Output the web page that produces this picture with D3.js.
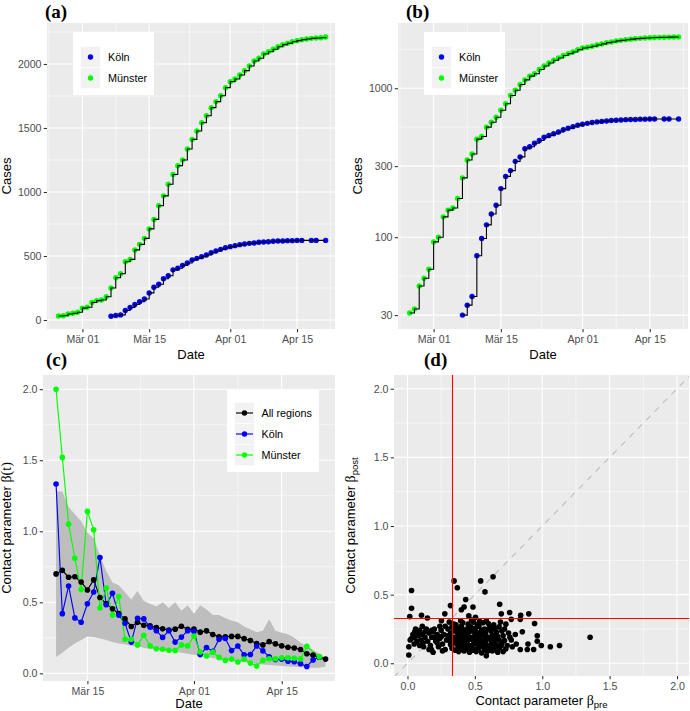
<!DOCTYPE html>
<html><head><meta charset="utf-8">
<script src="https://cdn.jsdelivr.net/npm/d3@7"></script>
<style>body{margin:0;background:#fff}svg{display:block}</style>
</head><body><svg id="chart" width="690" height="711"></svg>
<script>
// ---------------- DATA ----------------
const seriesNames = ["Köln", "Münster"];
const betaSeriesNames = ["All regions", "Köln", "Münster"];
const monthNames = ["Jan","Feb","Mär","Apr","Mai","Jun"];

const muensterStart = "2020-02-25";
const muensterCases = [31,33,47,53,61,93,100,137,152,157,182,250,330,362,455,474,548,591,638,712,786,893,970,1060,1137,1206,1250,1336,1411,1477,1541,1596,1659,1706,1752,1815,1862,1883,1914,1948,1984,2023,2045,2078,2096,2115,2135,2151,2161,2174,2182,2190,2195,2200,2203,2205,2211];

const koelnDates = ["2020-03-07","2020-03-08","2020-03-09","2020-03-10","2020-03-11","2020-03-12","2020-03-13","2020-03-14","2020-03-15","2020-03-16","2020-03-17","2020-03-18","2020-03-19","2020-03-20","2020-03-21","2020-03-22","2020-03-23","2020-03-24","2020-03-25","2020-03-26","2020-03-27","2020-03-28","2020-03-29","2020-03-30","2020-03-31","2020-04-01","2020-04-02","2020-04-03","2020-04-04","2020-04-05","2020-04-06","2020-04-07","2020-04-08","2020-04-09","2020-04-10","2020-04-11","2020-04-12","2020-04-13","2020-04-14","2020-04-15","2020-04-16","2020-04-18","2020-04-19","2020-04-21"];
const koelnCases = [30,35,40,75,98,121,143,164,212,256,280,323,346,392,405,427,446,469,482,495,508,526,539,552,565,573,581,589,594,599,602,607,609,612,615,617,617,620,620,622,622,622,622,622];

const betaStart = "2020-03-10";
const betaAll = [0.70,0.725,0.676,0.68,0.643,0.587,0.658,0.534,0.489,0.455,0.42,0.383,0.33,0.36,0.338,0.335,0.322,0.313,0.305,0.311,0.331,0.31,0.312,0.29,0.299,0.273,0.257,0.257,0.26,0.26,0.244,0.231,0.21,0.20,0.223,0.207,0.193,0.184,0.178,0.168,0.138,0.128,0.113,0.10];
const betaKoeln = [1.333,0.42,0.615,0.39,0.36,0.49,0.573,0.815,0.483,0.563,0.41,0.352,0.22,0.387,0.383,0.324,0.30,0.253,0.30,0.22,0.255,0.30,0.295,0.132,0.182,0.155,0.24,0.245,0.16,0.192,0.13,0.133,0.192,0.158,0.117,0.097,0.10,0.085,0.081,0.068,0.048,0.094,0.113];
const betaMuenster = [2.0,1.52,1.05,0.81,0.59,1.14,1.01,0.46,0.60,0.41,0.54,0.24,0.24,0.20,0.268,0.193,0.173,0.169,0.162,0.16,0.20,0.193,0.262,0.15,0.122,0.149,0.112,0.091,0.10,0.08,0.10,0.072,0.051,0.091,0.103,0.103,0.11,0.109,0.106,0.102,0.19,null,0.116];
const betaUpper = [1.28,1.28,1.17,1.12,1.07,0.99,0.95,0.83,0.72,0.64,0.62,0.57,0.52,0.58,0.51,0.49,0.47,0.5,0.46,0.5,0.44,0.48,0.42,0.48,0.45,0.41,0.41,0.39,0.37,0.36,0.33,0.31,0.29,0.30,0.38,0.30,0.285,0.275,0.25,0.215,0.19,0.165,0.14,0.11];
const betaLower = [0.115,0.145,0.18,0.21,0.235,0.26,0.255,0.245,0.235,0.22,0.21,0.205,0.195,0.19,0.18,0.172,0.168,0.163,0.158,0.152,0.145,0.137,0.13,0.122,0.115,0.108,0.1,0.095,0.09,0.082,0.078,0.072,0.067,0.062,0.058,0.055,0.052,0.048,0.046,0.043,0.041,0.04,0.04,0.048];

const betaPrePost = [
[0.03,0.53],[0.03,0.40],[0.017,0.34],[0.104,0.35],[0.148,0.33],[0.346,0.60],[0.37,0.55],[0.319,0.42],[0.252,0.31],[0.277,0.36],
[0.432,0.465],[0.40,0.39],[0.42,0.41],[0.486,0.41],[0.543,0.60],[0.575,0.52],[0.635,0.63],[0.684,0.43],[0.696,0.36],[0.758,0.37],
[0.77,0.32],[0.84,0.35],[0.90,0.36],[0.837,0.32],[0.943,0.29],[0.963,0.20],[0.963,0.16],[0.993,0.13],[1.06,0.12],[1.128,0.13],
[0.936,0.10],[0.894,0.14],[0.852,0.23],[0.80,0.21],[0.807,0.14],[0.889,0.10],[0.837,0.10],[0.778,0.12],[0.01,0.06],[0.01,0.12],
[0.03,0.18],[0.054,0.23],[0.07,0.16],[0.116,0.15],[0.178,0.10],[0.19,0.23],[0.252,0.195],[0.585,0.054],[0.578,0.097],[1.355,0.19],
[0.02,0.17],[0.04,0.21],[0.05,0.14],[0.06,0.25],[0.08,0.20],[0.09,0.24],[0.10,0.17],[0.11,0.21],[0.12,0.12],[0.13,0.19],
[0.14,0.25],[0.15,0.16],[0.16,0.22],[0.17,0.13],[0.18,0.19],[0.19,0.08],[0.20,0.25],[0.21,0.16],[0.22,0.21],[0.23,0.12],
[0.24,0.18],[0.25,0.24],[0.26,0.14],[0.27,0.21],[0.28,0.10],[0.28,0.27],[0.29,0.17],[0.07,0.22],[0.09,0.13],[0.13,0.23],
[0.16,0.10],[0.2,0.19],[0.24,0.27],[0.26,0.09],[0.05,0.19],[0.11,0.27],[0.18,0.24],[0.22,0.15],
[0.31,0.30],[0.36,0.28],[0.41,0.295],[0.45,0.285],[0.49,0.30],[0.52,0.28],[0.56,0.295],[0.60,0.29],[0.64,0.28],[0.69,0.30],[0.73,0.285],
[0.30,0.25],[0.33,0.265],[0.37,0.255],[0.40,0.27],[0.44,0.25],[0.47,0.265],[0.50,0.255],[0.53,0.27],[0.57,0.25],[0.61,0.26],[0.65,0.255],[0.68,0.265],[0.72,0.25],
[0.32,0.22],[0.35,0.235],[0.39,0.225],[0.42,0.24],[0.45,0.22],[0.48,0.235],[0.51,0.225],[0.55,0.24],[0.58,0.22],[0.62,0.235],[0.66,0.225],[0.70,0.235],[0.75,0.22],
[0.30,0.20],[0.34,0.19],[0.37,0.205],[0.40,0.195],[0.43,0.21],[0.47,0.19],[0.50,0.205],[0.53,0.195],[0.56,0.21],[0.60,0.19],[0.63,0.205],[0.67,0.195],[0.71,0.20],[0.76,0.19],
[0.31,0.165],[0.35,0.175],[0.38,0.16],[0.41,0.17],[0.44,0.165],[0.48,0.175],[0.51,0.16],[0.54,0.17],[0.58,0.165],[0.61,0.175],[0.64,0.16],[0.68,0.17],[0.72,0.165],[0.77,0.17],
[0.32,0.135],[0.36,0.145],[0.39,0.135],[0.42,0.145],[0.46,0.13],[0.49,0.14],[0.52,0.135],[0.55,0.145],[0.59,0.13],[0.62,0.14],[0.66,0.135],[0.70,0.145],[0.74,0.13],
[0.33,0.11],[0.37,0.10],[0.40,0.115],[0.44,0.105],[0.47,0.11],[0.50,0.10],[0.53,0.115],[0.57,0.105],[0.60,0.115],[0.64,0.10],[0.68,0.11],[0.73,0.105],
[0.38,0.085],[0.42,0.09],[0.46,0.08],[0.51,0.085],[0.55,0.075],[0.59,0.085],[0.63,0.09],[0.67,0.08],[0.71,0.085],
[0.345,0.245],[0.385,0.24],[0.425,0.225],[0.465,0.245],[0.505,0.24],[0.545,0.225],[0.585,0.245],[0.625,0.25],
[0.325,0.185],[0.365,0.19],[0.395,0.18],[0.435,0.19],[0.465,0.175],[0.495,0.185],[0.535,0.18],[0.575,0.19],[0.615,0.185],[0.655,0.18],
[0.335,0.15],[0.375,0.125],[0.405,0.155],[0.445,0.14],[0.475,0.125],[0.515,0.15],[0.545,0.125],[0.575,0.155],[0.615,0.12],[0.645,0.145],
[0.355,0.095],[0.395,0.1],[0.435,0.12],[0.485,0.095],[0.525,0.1],[0.565,0.12],[0.615,0.095],[0.655,0.12],[0.695,0.125],
[0.345,0.285],[0.395,0.31],[0.475,0.315],[0.535,0.305],[0.585,0.31],[0.455,0.345],[0.505,0.335]
];
const betaPreThreshold = 0.333;
const betaPostThreshold = 0.333;

const caseTicks = [0,500,1000,1500,2000];
const logCaseTicks = [30,100,300,1000];
const betaTicks = [0,0.5,1,1.5,2];
const dateTicksAB = ["2020-03-01","2020-03-15","2020-04-01","2020-04-15"];
const dateTicksC = ["2020-03-15","2020-04-01","2020-04-15"];

// ---------------- STYLE ----------------
const FONT = "'Liberation Sans', Arial, Helvetica, sans-serif";
const SERIF = "'Liberation Serif', 'Times New Roman', serif";
const colorOf = {"All regions":"#000000","Köln":"#0000FF","Münster":"#00FF00"};
const BG = "#EBEBEB";

const parseDay = d3.timeParse("%Y-%m-%d");
const fmtDate = d => monthNames[d.getMonth()] + " " + d3.timeFormat("%d")(d);
const svg = d3.select("#chart");
svg.append("rect").attr("width",690).attr("height",711).attr("fill","#fff");

function minorBreaks(majors, domain) {
  const b = majors.slice();
  const bd = b[1]-b[0];
  if (domain[0] < b[0]) b.unshift(b[0]-bd);
  if (domain[1] > b[b.length-1]) b.push(b[b.length-1]+bd);
  const m = [];
  for (let i=0;i<b.length-1;i++) m.push((b[i]+b[i+1])/2);
  return m.filter(v => v>domain[0] && v<domain[1]);
}

let clipId = 0;
function panel(box, xs, ys, xMaj, yMaj, xMin, yMin) {
  const g = svg.append("g");
  g.append("rect").attr("x",box.x0).attr("y",box.y0).attr("width",box.x1-box.x0).attr("height",box.y1-box.y0).attr("fill",BG);
  xMin.forEach(v => g.append("line").attr("x1",xs(v)).attr("x2",xs(v)).attr("y1",box.y0).attr("y2",box.y1).attr("stroke","#fff").attr("stroke-width",0.55));
  yMin.forEach(v => g.append("line").attr("y1",ys(v)).attr("y2",ys(v)).attr("x1",box.x0).attr("x2",box.x1).attr("stroke","#fff").attr("stroke-width",0.55));
  xMaj.forEach(v => g.append("line").attr("x1",xs(v)).attr("x2",xs(v)).attr("y1",box.y0).attr("y2",box.y1).attr("stroke","#fff").attr("stroke-width",1.1));
  yMaj.forEach(v => g.append("line").attr("y1",ys(v)).attr("y2",ys(v)).attr("x1",box.x0).attr("x2",box.x1).attr("stroke","#fff").attr("stroke-width",1.1));
  const id = "clip"+(clipId++);
  svg.append("clipPath").attr("id",id).append("rect").attr("x",box.x0).attr("y",box.y0).attr("width",box.x1-box.x0).attr("height",box.y1-box.y0);
  return svg.append("g").attr("clip-path",`url(#${id})`);
}

function styleAxis(g) {
  g.select(".domain").remove();
  g.selectAll(".tick line").attr("stroke","#333333").attr("stroke-width",1.07);
  g.selectAll(".tick text").attr("fill","#4D4D4D").style("font-size","10.6px").style("font-family",FONT);
}
function axisLeft(x0, ys, ticks, fmt) {
  const g = svg.append("g").attr("transform",`translate(${x0},0)`)
    .call(d3.axisLeft(ys).tickValues(ticks).tickFormat(fmt).tickSize(3.3).tickPadding(2.2).tickSizeOuter(0));
  styleAxis(g);
}
function axisBottom(y0, xs, ticks, fmt) {
  const g = svg.append("g").attr("transform",`translate(0,${y0})`)
    .call(d3.axisBottom(xs).tickValues(ticks).tickFormat(fmt).tickSize(3.3).tickPadding(3.4).tickSizeOuter(0));
  styleAxis(g);
}
function tag(x, y, s) {
  svg.append("text").attr("x",x).attr("y",y).text(s)
    .style("font-family",SERIF).style("font-weight","bold").style("font-size","19px").attr("fill","#000");
}
function xTitle(cx, y, s) {
  return svg.append("text").attr("x",cx).attr("y",y).attr("text-anchor","middle").text(s)
    .style("font-family",FONT).style("font-size","13px").attr("fill","#000");
}
function yTitle(x, cy) {
  return svg.append("text").attr("transform",`translate(${x},${cy}) rotate(-90)`).attr("text-anchor","middle")
    .style("font-family",FONT).style("font-size","13px").attr("fill","#000");
}

// ---------------- DATA RECORDS ----------------
const muensterRecs = muensterCases.map((v,i) => ({date: d3.timeDay.offset(parseDay(muensterStart), i), v}));
const koelnRecs = koelnCases.map((v,i) => ({date: parseDay(koelnDates[i]), v}));
const caseSeries = [{name:"Münster", recs: muensterRecs},{name:"Köln", recs: koelnRecs}];

// ---------------- PANEL (a) ----------------
const xDomAB = [new Date(2020,1,22,14), new Date(2020,3,22,23)];
const boxA = {x0:47, x1:335, y0:23, y1:329};
const xA = d3.scaleTime().domain(xDomAB).range([boxA.x0, boxA.x1]);
const yA = d3.scaleLinear().domain([-70, 2320]).range([boxA.y1, boxA.y0]);
const dTicksAB = dateTicksAB.map(parseDay);
const xMinAB = minorBreaks(dTicksAB.map(d=>+d), xDomAB.map(d=>+d)).map(v=>new Date(v));
const pa = panel(boxA, xA, yA, dTicksAB, caseTicks, xMinAB, minorBreaks(caseTicks, yA.domain()));
caseSeries.forEach(s => {
  pa.selectAll(null).data(s.recs).enter().append("circle")
    .attr("cx",d=>xA(d.date)).attr("cy",d=>yA(d.v)).attr("r",2.7).attr("fill",colorOf[s.name]);
});
caseSeries.forEach(s => {
  pa.append("path").datum(s.recs).attr("fill","none").attr("stroke","#000").attr("stroke-width",1.1)
    .attr("d", d3.line().curve(d3.curveStepAfter).x(d=>xA(d.date)).y(d=>yA(d.v)));
});
axisLeft(boxA.x0, yA, caseTicks, d3.format("d"));
axisBottom(boxA.y1, xA, dTicksAB, fmtDate);
tag(45, 18, "(a)");
xTitle((boxA.x0+boxA.x1)/2, 358.5, "Date");
yTitle(10.5, (boxA.y0+boxA.y1)/2).text("Cases");

function caseLegend(x0) {
  svg.append("rect").attr("x",x0).attr("y",32).attr("width",81).attr("height",63).attr("fill","#fff");
  seriesNames.forEach((n,i) => {
    const cy = 57 + i*21;
    svg.append("rect").attr("x",x0+7.5).attr("y",cy-10.5).attr("width",20).attr("height",21).attr("fill","#F2F2F2").attr("stroke","#fff").attr("stroke-width",0.6);
    svg.append("circle").attr("cx",x0+17.5).attr("cy",cy).attr("r",2.7).attr("fill",colorOf[n]);
    svg.append("text").attr("x",x0+35).attr("y",cy).attr("dy","0.36em").text(n)
      .style("font-family",FONT).style("font-size","10.8px").attr("fill","#000");
  });
}
caseLegend(73);

// ---------------- PANEL (b) ----------------
const boxB = {x0:398, x1:688, y0:23, y1:329};
const xB = d3.scaleTime().domain(xDomAB).range([boxB.x0, boxB.x1]);
const yB = d3.scaleLog().domain([24.2, 2740]).range([boxB.y1, boxB.y0]);
const lt = logCaseTicks.map(Math.log10);
const lMinor = [];
for (let i=0;i<lt.length-1;i++) lMinor.push((lt[i]+lt[i+1])/2);
lMinor.push(lt[lt.length-1] + (lt[lt.length-1]-lt[lt.length-2])/2);
const yMinB = lMinor.map(v=>Math.pow(10,v)).filter(v => v>24.2 && v<2740);
const pb = panel(boxB, xB, yB, dTicksAB, logCaseTicks, xMinAB, yMinB);
caseSeries.forEach(s => {
  pb.selectAll(null).data(s.recs).enter().append("circle")
    .attr("cx",d=>xB(d.date)).attr("cy",d=>yB(d.v)).attr("r",2.7).attr("fill",colorOf[s.name]);
});
caseSeries.forEach(s => {
  pb.append("path").datum(s.recs).attr("fill","none").attr("stroke","#000").attr("stroke-width",1.1)
    .attr("d", d3.line().curve(d3.curveStepAfter).x(d=>xB(d.date)).y(d=>yB(d.v)));
});
axisLeft(boxB.x0, yB, logCaseTicks, d3.format("d"));
axisBottom(boxB.y1, xB, dTicksAB, fmtDate);
tag(406, 18, "(b)");
xTitle((boxB.x0+boxB.x1)/2, 358.5, "Date");
yTitle(362, (boxB.y0+boxB.y1)/2).text("Cases");
caseLegend(424);

// ---------------- PANEL (c) ----------------
const boxC = {x0:43, x1:335, y0:375, y1:681};
const xDomC = [new Date(2020,2,7,22), new Date(2020,3,23,12)];
const xC = d3.scaleTime().domain(xDomC).range([boxC.x0, boxC.x1]);
const yC = d3.scaleLinear().domain([-0.054, 2.1]).range([boxC.y1, boxC.y0]);
const dTicksC = dateTicksC.map(parseDay);
const xMinC = minorBreaks(dTicksC.map(d=>+d), xDomC.map(d=>+d)).map(v=>new Date(v));
const pc = panel(boxC, xC, yC, dTicksC, betaTicks, xMinC, minorBreaks(betaTicks, yC.domain()));
const bDate = i => d3.timeDay.offset(parseDay(betaStart), i);
const ribbon = betaUpper.map((u,i) => ({date: bDate(i), lo: betaLower[i], hi: u}));
pc.append("path").datum(ribbon).attr("fill","#BEBEBE")
  .attr("d", d3.area().x(d=>xC(d.date)).y0(d=>yC(d.lo)).y1(d=>yC(d.hi)));
const betaSeries = [
  {name:"All regions", vals: betaAll},
  {name:"Köln", vals: betaKoeln},
  {name:"Münster", vals: betaMuenster}
].map(s => ({name: s.name, recs: s.vals.map((v,i)=>({date: bDate(i), v})).filter(d => d.v !== null)}));
betaSeries.forEach(s => {
  pc.append("path").datum(s.recs).attr("fill","none").attr("stroke",colorOf[s.name]).attr("stroke-width",1.15)
    .attr("d", d3.line().x(d=>xC(d.date)).y(d=>yC(d.v)));
});
betaSeries.forEach(s => {
  pc.selectAll(null).data(s.recs).enter().append("circle")
    .attr("cx",d=>xC(d.date)).attr("cy",d=>yC(d.v)).attr("r",2.8).attr("fill",colorOf[s.name]);
});
axisLeft(boxC.x0, yC, betaTicks, d3.format(".1f"));
axisBottom(boxC.y1, xC, dTicksC, fmtDate);
tag(46, 366, "(c)");
xTitle((boxC.x0+boxC.x1)/2, 708, "Date");
{
  const t = yTitle(11, (boxC.y0+boxC.y1)/2);
  t.append("tspan").text("Contact parameter ");
  t.append("tspan").text("β(t)").style("font-family",SERIF).style("font-size","14px");
}
// legend (c)
svg.append("rect").attr("x",227).attr("y",390).attr("width",92).attr("height",82).attr("fill","#fff");
betaSeriesNames.forEach((n,i) => {
  const cy = 413 + i*21;
  svg.append("rect").attr("x",234.5).attr("y",cy-10.5).attr("width",20).attr("height",21).attr("fill","#F2F2F2").attr("stroke","#fff").attr("stroke-width",0.6);
  svg.append("line").attr("x1",236).attr("x2",253).attr("y1",cy).attr("y2",cy).attr("stroke",colorOf[n]).attr("stroke-width",1.15);
  svg.append("circle").attr("cx",244.5).attr("cy",cy).attr("r",2.7).attr("fill",colorOf[n]);
  svg.append("text").attr("x",261.5).attr("y",cy).attr("dy","0.36em").text(n)
    .style("font-family",FONT).style("font-size","10.8px").attr("fill","#000");
});

// ---------------- PANEL (d) ----------------
const boxD = {x0:394, x1:689, y0:375, y1:676};
const xD = d3.scaleLinear().domain([-0.1, 2.1]).range([boxD.x0, boxD.x1+1.5]);
const yD = d3.scaleLinear().domain([-0.1, 2.1]).range([boxD.y1+1, boxD.y0]);
const pd = panel(boxD, xD, yD, betaTicks, betaTicks, minorBreaks(betaTicks, xD.domain()), minorBreaks(betaTicks, yD.domain()));
pd.append("line").attr("x1",xD(-0.1)).attr("y1",yD(-0.1)).attr("x2",xD(2.1)).attr("y2",yD(2.1))
  .attr("stroke","#BDBDBD").attr("stroke-width",1.1).attr("stroke-dasharray","6,6");
pd.selectAll(null).data(betaPrePost).enter().append("circle")
  .attr("cx",d=>xD(d[0])).attr("cy",d=>yD(d[1])).attr("r",2.8).attr("fill","#000");
const vx = Math.round(xD(betaPreThreshold)) + 0.5;
const hy = Math.round(yD(betaPostThreshold)) + 0.5;
pd.append("line").attr("x1",vx).attr("x2",vx).attr("y1",boxD.y0).attr("y2",boxD.y1)
  .attr("stroke","#FF0000").attr("stroke-width",1.1);
pd.append("line").attr("y1",hy).attr("y2",hy).attr("x1",boxD.x0).attr("x2",boxD.x1)
  .attr("stroke","#FF0000").attr("stroke-width",1.1);
axisLeft(boxD.x0, yD, betaTicks, d3.format(".1f"));
axisBottom(boxD.y1, xD, betaTicks, d3.format(".1f"));
tag(424, 366, "(d)");
{
  const t = xTitle((boxD.x0+boxD.x1)/2, 705, "");
  t.append("tspan").text("Contact parameter ");
  t.append("tspan").text("β").style("font-family",SERIF).style("font-size","14px");
  t.append("tspan").text("pre").style("font-size","9.5px").attr("dy","3");
}
{
  const t = yTitle(355, (boxD.y0+boxD.y1)/2);
  t.append("tspan").text("Contact parameter ");
  t.append("tspan").text("β").style("font-family",SERIF).style("font-size","14px");
  t.append("tspan").text("post").style("font-size","9.5px").attr("dy","3");
}
</script>
</body></html>
